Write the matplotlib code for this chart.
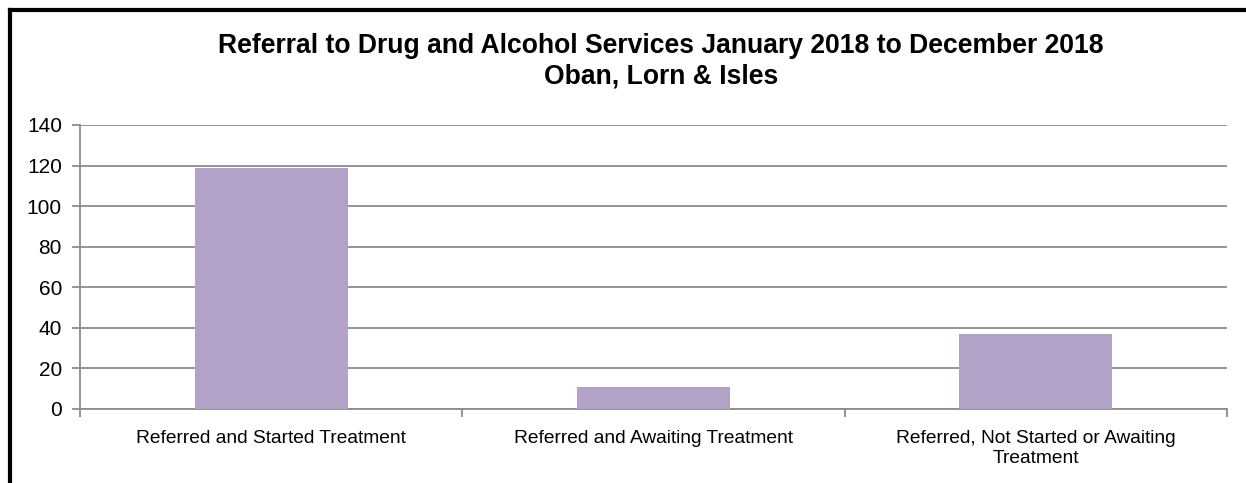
import matplotlib.pyplot as plt
from matplotlib.lines import Line2D

categories = ['Referred and Started Treatment',
              'Referred and Awaiting Treatment',
              'Referred, Not Started or Awaiting\nTreatment']
values = [119, 11, 37]
yticks = [0, 20, 40, 60, 80, 100, 120, 140]

plt.rcParams['font.family'] = ['Liberation Sans', 'DejaVu Sans']

W, H = 1246, 483
fig = plt.figure(figsize=(W / 100, H / 100), dpi=100)
ax = fig.add_axes([80 / W, (H - 409) / H, (1227 - 80) / W, (409 - 125) / H])

grid_col = '#8c8c8c'
x = list(range(len(categories)))
ax.bar(x, values, width=0.4, color='#b3a2c7', zorder=3)

ax.set_xlim(-0.5, len(categories) - 0.5)
ax.set_ylim(0, 140)
ax.set_yticks(yticks)
ax.set_yticklabels([str(v) for v in yticks], fontsize=15)
ax.yaxis.grid(True, color=grid_col, linewidth=1.3, zorder=0)

ax.set_xticks(x)
ax.set_xticklabels(categories, fontsize=13.8, linespacing=1.22)
ax.set_xticks([i - 0.5 for i in range(len(categories) + 1)], minor=True)
ax.tick_params(axis='x', which='major', length=0, pad=15)
ax.tick_params(axis='x', which='minor', length=6, color=grid_col, width=1.3)
ax.tick_params(axis='y', length=6, color=grid_col, width=1.3, pad=7)

for s in ['top', 'right']:
    ax.spines[s].set_visible(False)
for s in ['left', 'bottom']:
    ax.spines[s].set_color(grid_col)
    ax.spines[s].set_linewidth(1.3)

fig.text(661 / W, 1 - 61 / H,
         'Referral to Drug and Alcohol Services January 2018 to December 2018\nOban, Lorn & Isles',
         ha='center', va='center', fontsize=19.1, fontweight='bold')

# outer frame: only top and left edges show
fig.add_artist(Line2D([10 / W, 10 / W], [0, 1 - 10 / H], transform=fig.transFigure,
                      color='black', linewidth=3, solid_capstyle='projecting'))
fig.add_artist(Line2D([10 / W, 1], [1 - 10 / H, 1 - 10 / H], transform=fig.transFigure,
                      color='black', linewidth=3, solid_capstyle='projecting'))

fig.savefig('out.png', dpi=100)
